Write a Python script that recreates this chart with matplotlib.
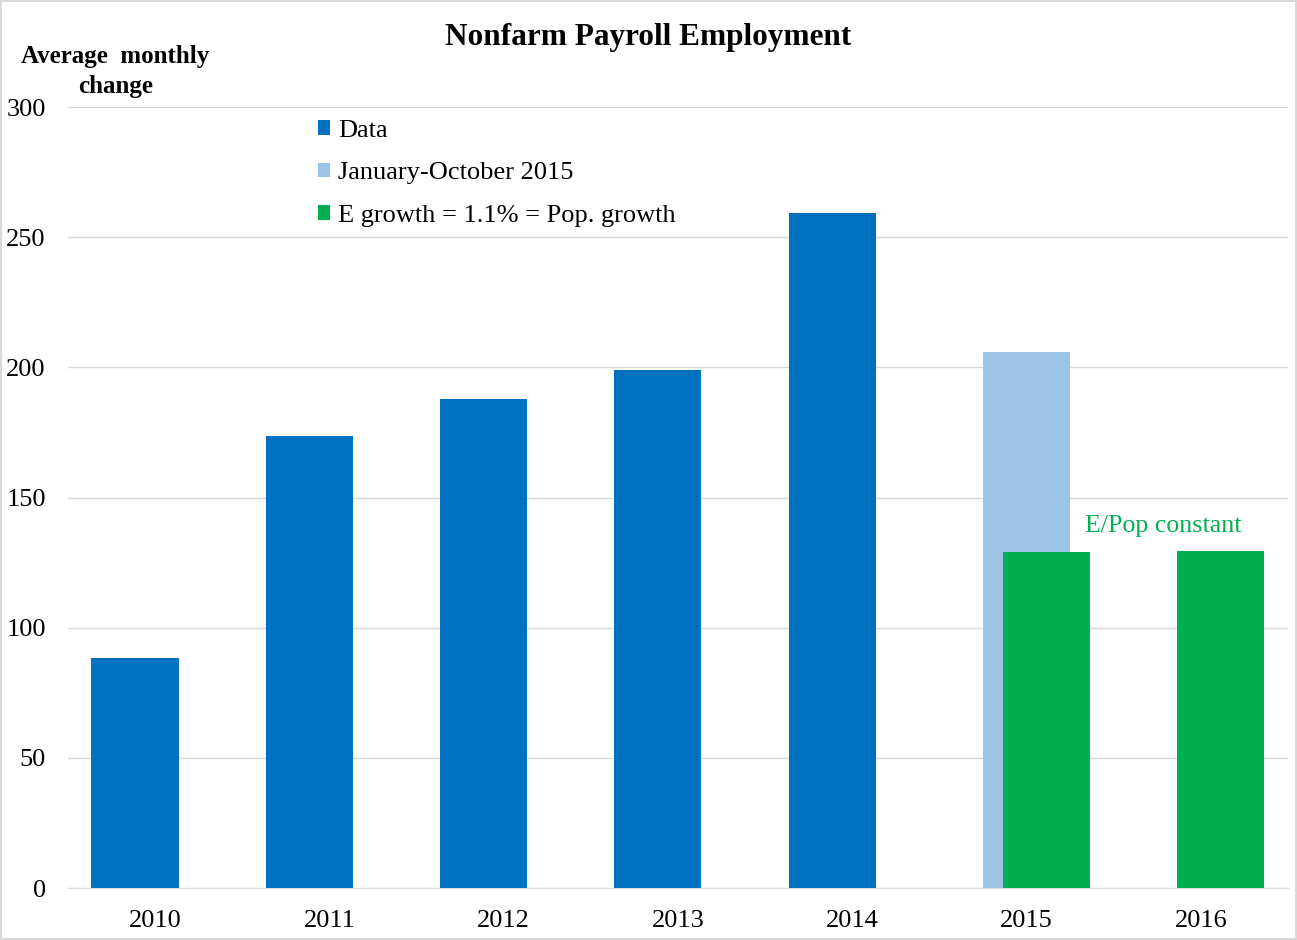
import matplotlib
matplotlib.use('Agg')

import matplotlib.pyplot as plt
import numpy as np

# Values (thousands, average monthly change)
years = ['2010', '2011', '2012', '2013', '2014', '2015', '2016']
data_vals = [88.5, 173.5, 188, 199, 259.5, np.nan, np.nan]
jan_oct_2015 = [np.nan, np.nan, np.nan, np.nan, np.nan, 206, np.nan]
epop_vals = [np.nan, np.nan, np.nan, np.nan, np.nan, 129, 129.5]
y_ticks = [0, 50, 100, 150, 200, 250, 300]

c_data = '#0070C0'
c_light = '#9DC3E6'
c_green = '#00B050'

plt.rcParams['font.family'] = ['Liberation Serif', 'DejaVu Serif']

fig = plt.figure(figsize=(12.97, 9.4), dpi=100)
ax = fig.add_axes([0.0524, 0.0553, 0.9406, 0.8307])

x = np.arange(len(years))
w = 0.5
off = 0.115
ax.bar(x - off, data_vals, w, color=c_data, label='Data', zorder=3)
ax.bar(x, jan_oct_2015, w, color=c_light, label='January-October 2015', zorder=3)
ax.bar(x + off, epop_vals, w, color=c_green, label='E growth = 1.1% = Pop. growth', zorder=4)

ax.set_xlim(-0.5, len(years) - 0.5)
ax.set_ylim(0, 300)
ax.set_yticks(y_ticks)
ax.set_xticks(x)
ax.set_xticklabels(years)
ax.tick_params(axis='both', length=0, labelsize=19, colors='black')
ax.tick_params(axis='y', pad=16)
ax.tick_params(axis='x', pad=16)

ax.grid(axis='y', color='#d9d9d9', linewidth=1, zorder=0)
for s in ['top', 'right', 'left']:
    ax.spines[s].set_visible(False)
ax.spines['bottom'].set_color('#d9d9d9')

fig.text(0.5, 0.96, 'Nonfarm Payroll Employment', ha='center', va='center',
         fontsize=22.5, fontweight='bold')
fig.text(0.089, 0.924, 'Average  monthly\nchange', ha='center', va='center',
         fontsize=18, fontweight='bold', linespacing=1.43)

ax.text(5.787, 139, 'E/Pop constant', color=c_green, fontsize=18.7,
        ha='center', va='center')

ax.legend(loc='upper left', bbox_to_anchor=(0.245, 0.8726), bbox_transform=fig.transFigure,
          frameon=False, fontsize=19, handlelength=0.46, handleheight=0.46,
          handletextpad=0.3, labelspacing=0.78, borderpad=0, borderaxespad=0)

# light frame round the whole picture
fig.patches.append(plt.Rectangle((0.001, 0.001), 0.998, 0.998, transform=fig.transFigure,
                                 fill=False, edgecolor='#d9d9d9', linewidth=1.5))

fig.savefig('out.png', dpi=100)
plt.close(fig)
